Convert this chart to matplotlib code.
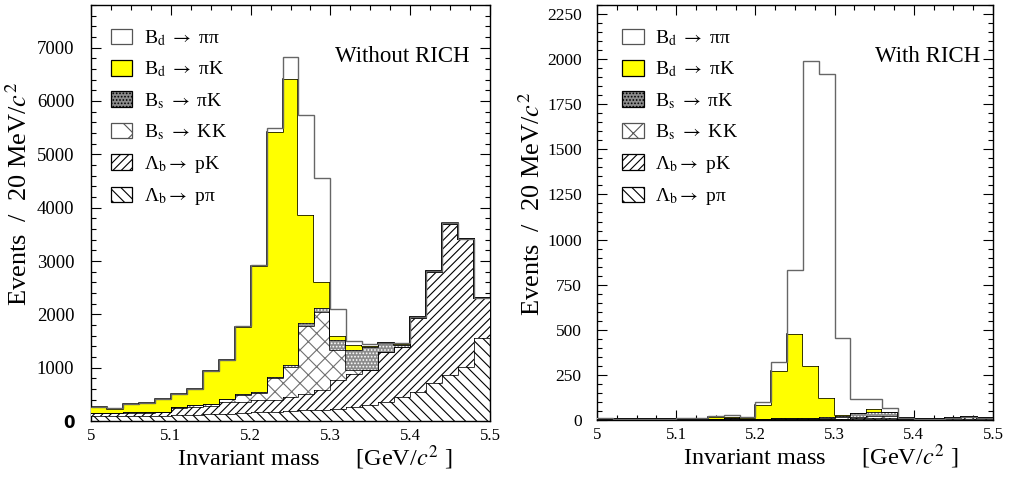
import numpy as np
import matplotlib
matplotlib.use("Agg")
import matplotlib.pyplot as plt
from matplotlib.patches import Patch
from matplotlib.ticker import MultipleLocator

plt.rcParams['font.family'] = ['Liberation Serif', 'DejaVu Serif']
plt.rcParams['mathtext.fontset'] = 'stix'
plt.rcParams['hatch.linewidth'] = 0.8

# ---------------- data ----------------
edges = np.linspace(5.0, 5.5, 26)   # 20 MeV bins

# Without RICH
L_Lb_ppi = [90, 90, 95, 95, 100, 110, 120, 130, 140, 150, 160, 170, 185, 205, 215, 219, 269, 300, 362, 457, 551, 707, 863, 1019, 1563]
L_Lb_pK = [60, 60, 60, 60, 60, 140, 150, 160, 210, 210, 230, 230, 271, 301, 366, 541, 611, 657, 939, 937, 1387, 2095, 2833, 2390, 738]
L_Bs_KK = [6, 6, 6, 8, 12, 10, 25, 30, 60, 130, 140, 400, 563, 1269, 1464, 572, 77, 0, 0, 0, 0, 0, 0, 0, 0]
L_Bs_piK = [3, 3, 3, 3, 4, 5, 5, 6, 8, 10, 20, 31, 31, 58, 69, 188, 375, 423, 156, 26, 5, 5, 5, 5, 3]
L_Bd_piK = [98, 72, 149, 166, 237, 235, 294, 612, 726, 1270, 2350, 4579, 5360, 2032, 500, 81, 94, 20, 3, 20, 2, 3, 4, 4, 2]
L_Bd_pipi = [5, 5, 4, 5, 4, 5, 6, 7, 6, 10, 30, 80, 410, 1875, 1951, 500, 81, 40, 10, 20, 5, 2, 3, 2, 2]

# With RICH
R_Lb_ppi = [5, 3, 2, 2, 2, 3, 3, 3, 3, 3, 3, 3, 3, 3, 3, 4, 4, 4, 4, 4, 4, 5, 6, 8, 5]
R_Lb_pK = [3, 2, 1, 1, 2, 3, 3, 3, 4, 3, 3, 3, 3, 3, 4, 4, 6, 8, 8, 4, 2, 3, 6, 8, 5]
R_Bs_KK = [0, 0, 0, 0, 0, 0, 0, 2, 3, 2, 2, 3, 4, 4, 5, 6, 8, 10, 10, 0, 0, 0, 0, 0, 0]
R_Bs_piK = [0, 0, 0, 0, 0, 0, 0, 0, 0, 0, 0, 0, 0, 0, 3, 8, 20, 25, 25, 1, 0, 0, 0, 0, 0]
R_Bd_piK = [0, 0, 0, 0, 0, 2, 2, 6, 8, 5, 75, 265, 469, 289, 108, 6, 2, 12, 0, 0, 0, 0, 0, 0, 0]
R_Bd_pipi = [2, 0, 0, 0, 1, 2, 2, 8, 7, 5, 18, 49, 351, 1692, 1794, 424, 74, 55, 17, 1, 0, 0, 1, 2, 0]

labels = [r'B$_{\mathrm{d}}$ $\rightarrow$ ππ', r'B$_{\mathrm{d}}$ $\rightarrow$ πK',
          r'B$_{\mathrm{s}}$ $\rightarrow$ πK', r'B$_{\mathrm{s}}$ $\rightarrow$ KK',
          r'Λ$_{\mathrm{b}}$$\rightarrow$ pK', r'Λ$_{\mathrm{b}}$$\rightarrow$ pπ']

# styles bottom -> top : Lb ppi, Lb pK, Bs KK, Bs piK, Bd piK, Bd pipi
styles = [
    dict(facecolor='white', edgecolor='black', hatch='\\\\\\'),
    dict(facecolor='white', edgecolor='black', hatch='////'),
    dict(facecolor='white', edgecolor='#707070', hatch='xx'),
    dict(facecolor='#8c8c8c', edgecolor='white', hatch='.....'),
    dict(facecolor='#ffff00', edgecolor='black', hatch=None),
    dict(facecolor='white', edgecolor='#666666', hatch=None),
]

fig = plt.figure(figsize=(10.10, 4.78), dpi=100)
axL = fig.add_axes([91/1010, 57/478, 399/1010, 416/478])
axR = fig.add_axes([597/1010, 58/478, 396/1010, 415/478])


def draw(ax, comps):
    bottom = np.zeros(25)
    for i, (vals, st) in enumerate(zip(comps, styles)):
        top = bottom + np.asarray(vals, float)
        ax.stairs(top, edges, baseline=bottom, fill=True, linewidth=0,
                  zorder=2 + i, **st)
        if i == 5:
            ax.stairs(top, edges, baseline=None, color='#666666', lw=1.0, zorder=9)
        else:
            ax.stairs(top, edges, baseline=None, color='black', lw=1.1, zorder=3 + i)
        bottom = top


draw(axL, [L_Lb_ppi, L_Lb_pK, L_Bs_KK, L_Bs_piK, L_Bd_piK, L_Bd_pipi])
draw(axR, [R_Lb_ppi, R_Lb_pK, R_Bs_KK, R_Bs_piK, R_Bd_piK, R_Bd_pipi])

legend_style = [
    dict(facecolor='white', edgecolor='#555555'),
    dict(facecolor='#ffff00', edgecolor='black'),
    dict(facecolor='#8c8c8c', edgecolor='black', hatch='.....'),
    dict(facecolor='white', edgecolor='#555555', hatch='x'),
    dict(facecolor='white', edgecolor='black', hatch='////'),
    dict(facecolor='white', edgecolor='black', hatch='\\\\\\'),
]

cfg = [
    (axL, 7800, 1000, 200, 13.5, 12, 0.03, 0.561, 0.545, -0.148),
    (axR, 2300, 250, 50, 12.5, 11, 0.044, 0.566, 0.52, -0.131),
]
for ax, ymax, maj, mnr, ysz, ypad, lx, xlx, yly, ylx in cfg:
    ax.set_xlim(5.0, 5.5)
    ax.set_ylim(0, ymax)
    ax.xaxis.set_major_locator(MultipleLocator(0.1))
    ax.xaxis.set_minor_locator(MultipleLocator(0.025))
    ax.yaxis.set_major_locator(MultipleLocator(maj))
    ax.yaxis.set_minor_locator(MultipleLocator(mnr))
    ax.tick_params(which='both', direction='in', top=True, right=True, width=0.8)
    ax.tick_params(which='major', length=7)
    ax.tick_params(which='minor', length=3.5)
    ax.tick_params(axis='x', labelsize=12, pad=5)
    ax.tick_params(axis='y', labelsize=ysz, pad=ypad)
    ax.set_xticks(np.arange(5.0, 5.51, 0.1))
    ax.set_xticklabels(['5', '5.1', '5.2', '5.3', '5.4', '5.5'])
    for s in ax.spines.values():
        s.set_linewidth(1.0)
    ax.set_xlabel(r'Invariant mass      [GeV/$c^2$ ]', fontsize=17.5)
    ax.xaxis.set_label_coords(xlx, -0.055)
    ax.set_ylabel(r'Events  /  20 MeV/$c^2$', fontsize=19)
    ax.yaxis.set_label_coords(ylx, yly)

    handles = [Patch(linewidth=0.9, **s) for s in legend_style]
    leg = ax.legend(handles, labels, loc='upper left', bbox_to_anchor=(lx, 0.963),
                    frameon=False, fontsize=14, handlelength=1.1, handleheight=0.85,
                    labelspacing=0.6, handletextpad=0.6, borderaxespad=0)
    leg.set_zorder(20)

# bold sans zero on the left panel
fig.canvas.draw()
for t in axL.get_yticklabels():
    if t.get_text() == '0':
        t.set_fontfamily('DejaVu Sans')
        t.set_fontweight('bold')
        t.set_fontsize(12)

axL.text(0.95, 0.875, 'Without RICH', transform=axL.transAxes, ha='right', va='center',
         fontsize=16.5, zorder=21)
axR.text(0.967, 0.875, 'With RICH', transform=axR.transAxes, ha='right', va='center',
         fontsize=16.5, zorder=21)

fig.savefig('out.png', dpi=100)
